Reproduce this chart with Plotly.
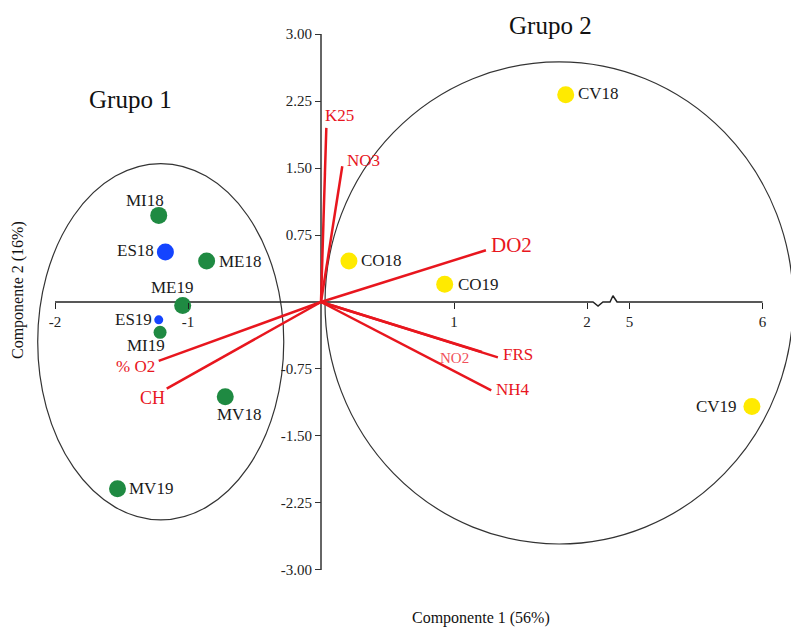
import plotly.graph_objects as go

# ---------------- data ----------------
samples = ["MI18", "ES18", "ME18", "ME19", "ES19", "MI19", "MV18", "MV19",
           "CO18", "CO19", "CV18", "CV19"]
comp1 = [-1.22, -1.17, -0.86, -1.04, -1.22, -1.21, -0.72, -1.53,
         0.21, 0.93, 1.84, 5.92]
comp2 = [0.97, 0.56, 0.46, -0.04, -0.20, -0.34, -1.06, -2.09,
         0.46, 0.20, 2.32, -1.17]

variables = ["K25", "NO3", "DO2", "FRS", "NO2", "NH4", "% O2", "CH"]
load1 = [0.04, 0.16, 1.24, 1.33, 1.21, 1.28, -1.22, -1.16]
load2 = [1.95, 1.52, 0.58, -0.62, -0.56, -0.99, -0.66, -0.97]

x_tick_values = [-2, -1, 1, 2, 5, 6]
y_tick_values = [-3.0, -2.25, -1.5, -0.75, 0.75, 1.5, 2.25, 3.0]

groups = ["Grupo 1", "Grupo 2"]

# ---------------- broken x axis (2 | 5) ----------------
BREAK_LOW, BREAK_HIGH, BREAK_GAP = 2.0, 5.0, 0.32


def tx(v):
    return v if v <= BREAK_LOW else v - (BREAK_HIGH - BREAK_LOW) + BREAK_GAP


# ---------------- styles ----------------
GREEN, BLUE, YELLOW = "#1f8a42", "#1444ff", "#ffea00"
RED = "#e8161e"
SERIF = "Liberation Serif, Times New Roman, serif"

pt_color = [GREEN, BLUE, GREEN, GREEN, BLUE, GREEN, GREEN, GREEN,
            YELLOW, YELLOW, YELLOW, YELLOW]
pt_size = [17, 17, 17, 17, 9, 13, 17, 17, 17, 17, 17, 17]
# label placement: (xanchor, xshift, yshift)
pt_lab = [("center", -14, 15), ("right", -9, 1), ("left", 10, -1),
          ("center", -10, 18), ("right", -5, 0), ("center", -14, -13),
          ("center", 14, -18), ("left", 9, 0), ("left", 10, 0),
          ("left", 11, 0), ("left", 10, 1), ("right", -13, 0)]

var_lab = [("left", -3, 12, 17), ("left", 3, 6, 17), ("left", 3, 5, 21),
           ("left", 3, 3, 17), ("center", -27, -6, 15), ("left", 3, 1, 17),
           ("right", -2, -6, 17), ("right", 0, -9, 18)]

# ---------------- figure ----------------
W, H = 791, 628
ORIGIN_PX = (321, 302)
PX_X, PX_Y = 133.0, 89.3
x_range = [-ORIGIN_PX[0] / PX_X, (W - ORIGIN_PX[0]) / PX_X]
y_range = [(ORIGIN_PX[1] - H) / PX_Y, ORIGIN_PX[1] / PX_Y]

fig = go.Figure()

# group ellipses
ell = [dict(x0=tx(-2.13), x1=tx(-0.28), y0=-2.44, y1=1.55),
       dict(x0=0.03, x1=3.55, y0=-2.71, y1=2.69)]
for e in ell:
    fig.add_shape(type="circle", xref="x", yref="y", line=dict(color="#333333", width=1.2),
                  layer="below", **e)

# y axis line
fig.add_trace(go.Scatter(x=[0, 0], y=[min(y_tick_values), max(y_tick_values)],
                         mode="lines", line=dict(color="#333333", width=1.5),
                         hoverinfo="skip", showlegend=False))

# x axis line with break zigzag
zx = [tx(-2), tx(2), 2.045, 2.083, 2.12, 2.173, 2.195, 2.226, tx(5), tx(6)]
zy = [0, 0, 0, -0.045, 0, 0, 0.07, 0, 0, 0]
fig.add_trace(go.Scatter(x=zx, y=zy, mode="lines", line=dict(color="#222222", width=1.5),
                         hoverinfo="skip", showlegend=False))

# loading vectors
for v, a, b in zip(variables, load1, load2):
    fig.add_trace(go.Scatter(x=[0, tx(a)], y=[0, b], mode="lines",
                             line=dict(color=RED, width=2.5),
                             hoverinfo="skip", showlegend=False))

# sample points
fig.add_trace(go.Scatter(x=[tx(v) for v in comp1], y=comp2, mode="markers",
                         marker=dict(color=pt_color, size=pt_size, opacity=1,
                                     line=dict(width=0)),
                         text=samples, hoverinfo="text", showlegend=False))

annotations = []
for s, a, b, (xa, xs, ys) in zip(samples, comp1, comp2, pt_lab):
    annotations.append(dict(x=tx(a), y=b, xref="x", yref="y", text=s, showarrow=False,
                            xanchor=xa, yanchor="middle", xshift=xs, yshift=ys,
                            font=dict(family=SERIF, size=17, color="#1a1a1a")))
for v, a, b, (xa, xs, ys, fs) in zip(variables, load1, load2, var_lab):
    col = "#f0505a" if v == "NO2" else RED
    annotations.append(dict(x=tx(a), y=b, xref="x", yref="y", text=v, showarrow=False,
                            xanchor=xa, yanchor="middle", xshift=xs, yshift=ys,
                            font=dict(family=SERIF, size=fs, color=col)))

annotations += [
    dict(x=130 / W, y=1 - 100 / H, xref="paper", yref="paper", text=groups[0],
         xanchor="center", yanchor="middle",
         showarrow=False, font=dict(family=SERIF, size=25, color="#111111")),
    dict(x=550 / W, y=1 - 25 / H, xref="paper", yref="paper", text=groups[1],
         xanchor="center", yanchor="middle",
         showarrow=False, font=dict(family=SERIF, size=25, color="#111111")),
    dict(x=481 / W, y=1 - 618 / H, xref="paper", yref="paper", text="Componente 1 (56%)",
         xanchor="center", yanchor="middle",
         showarrow=False, font=dict(family=SERIF, size=16, color="#111111")),
    dict(x=18 / W, y=1 - 290 / H, xref="paper", yref="paper", text="Componente 2 (16%)",
         xanchor="center", yanchor="middle",
         showarrow=False, textangle=-90, font=dict(family=SERIF, size=16, color="#111111")),
]

fig.update_layout(
    width=W, height=H, margin=dict(l=0, r=0, t=0, b=0, pad=0),
    paper_bgcolor="white", plot_bgcolor="white",
    annotations=annotations,
    xaxis=dict(range=x_range, anchor="free", position=1 - ORIGIN_PX[1] / H,
               showgrid=False, zeroline=False, showline=False,
               tickmode="array", tickvals=[tx(v) for v in x_tick_values],
               ticktext=[str(v) for v in x_tick_values],
               ticks="outside", ticklen=6, tickwidth=1.2, tickcolor="#222222",
               tickfont=dict(family=SERIF, size=15, color="#222222"), fixedrange=True),
    yaxis=dict(range=y_range, anchor="free", position=ORIGIN_PX[0] / W,
               showgrid=False, zeroline=False, showline=False,
               tickmode="array", tickvals=y_tick_values,
               ticktext=[f"{v:.2f}" for v in y_tick_values],
               ticks="outside", ticklen=6, tickwidth=1.2, tickcolor="#333333",
               tickfont=dict(family=SERIF, size=15, color="#222222"), fixedrange=True),
    showlegend=False,
)

fig.write_html("out.html")
